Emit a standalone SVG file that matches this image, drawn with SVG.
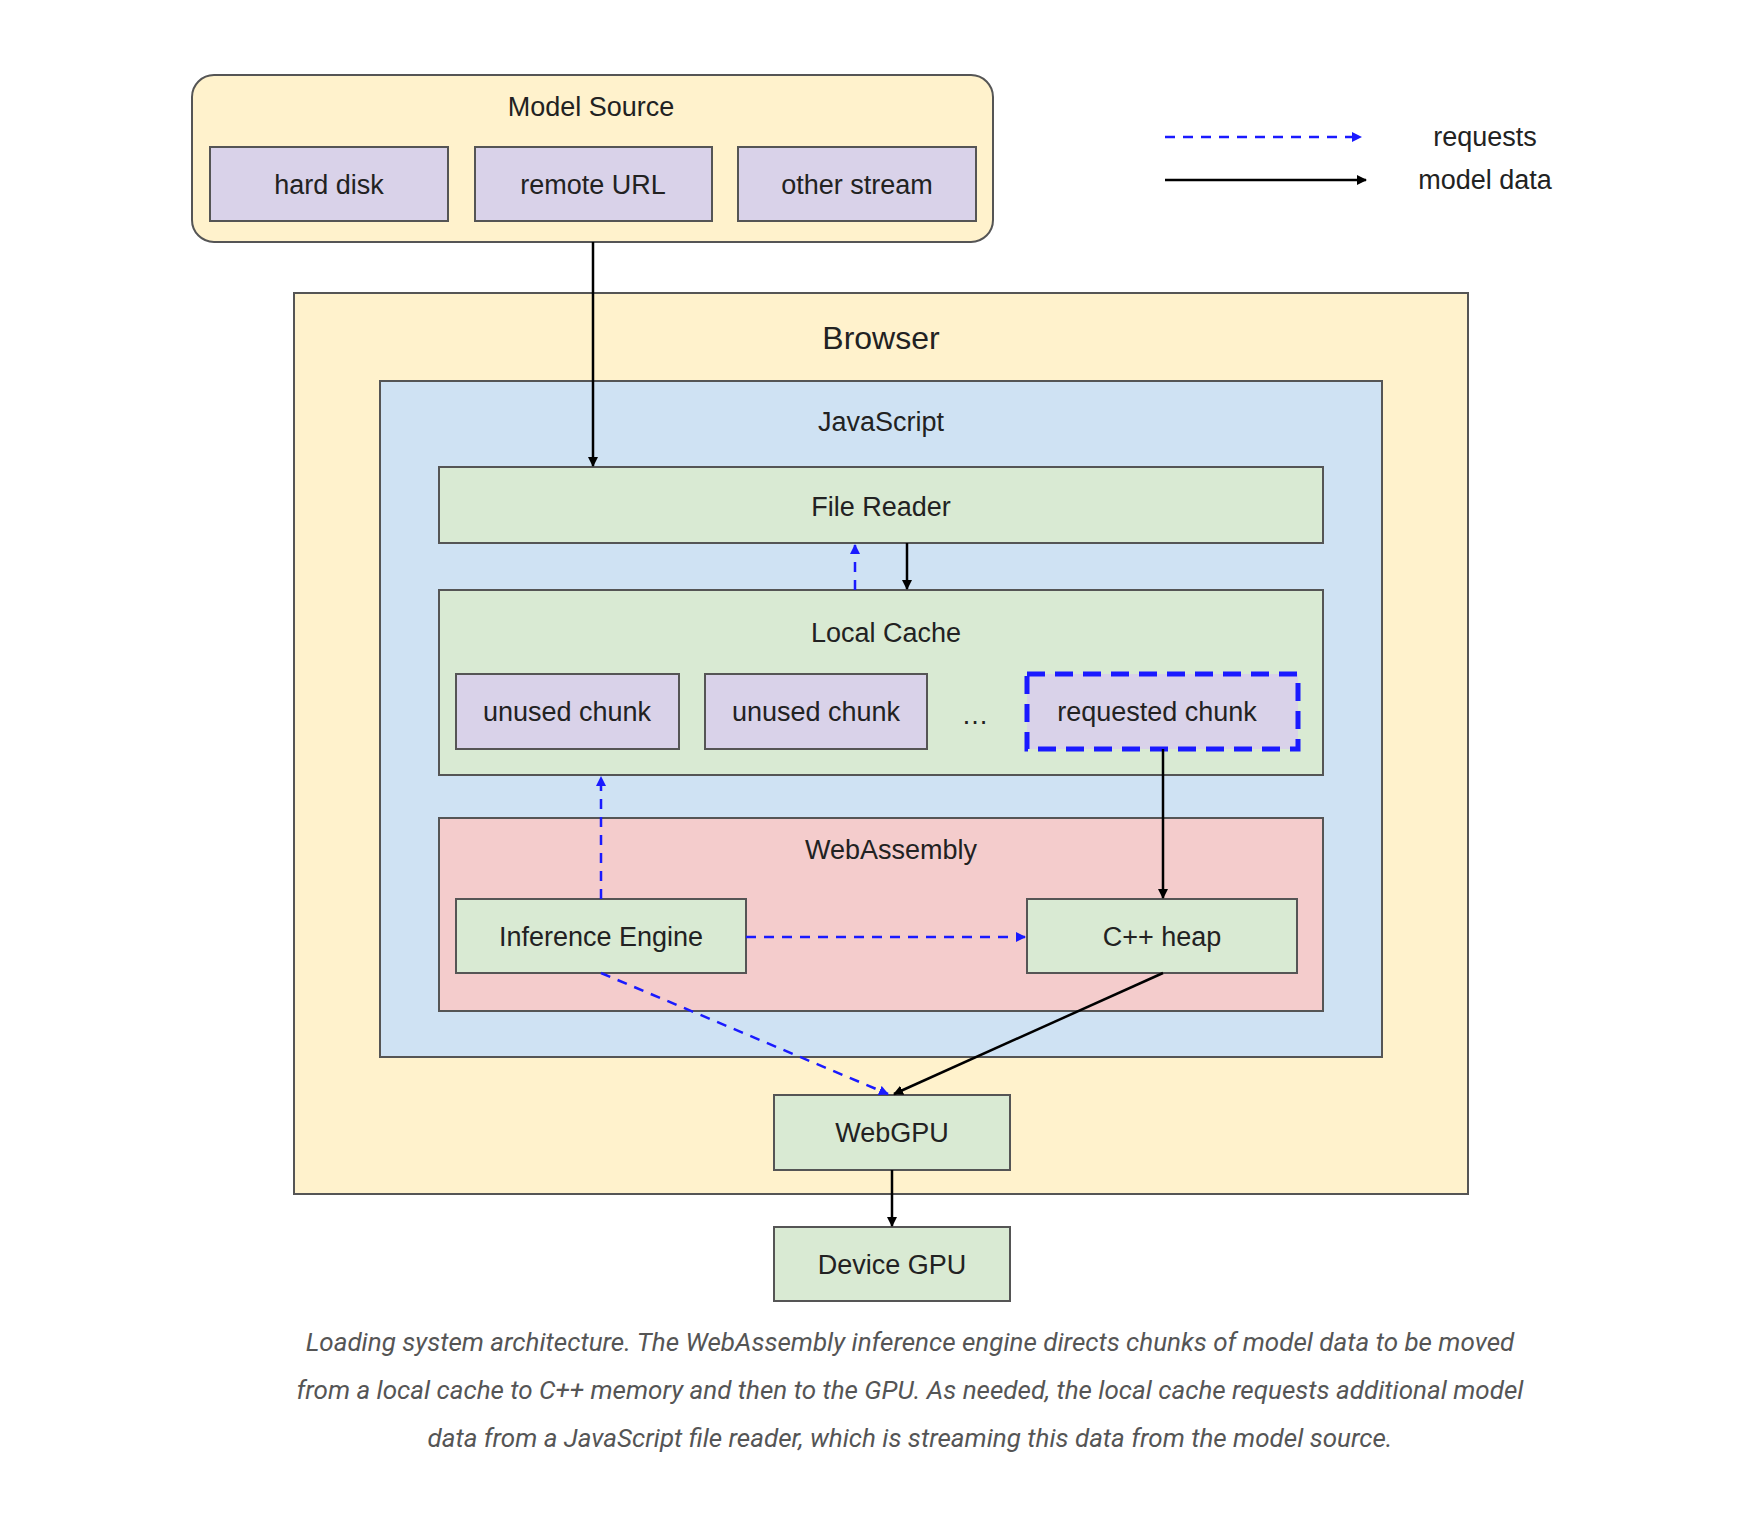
<svg xmlns="http://www.w3.org/2000/svg" width="1764" height="1528" viewBox="0 0 1764 1528">
<style>
text{font-family:"Liberation Sans",Arial,sans-serif;fill:#222;text-anchor:middle;dominant-baseline:central}
.t{font-size:27px}
.box{stroke:#555;stroke-width:2}
.y{fill:#fff2cc}.b{fill:#cfe2f3}.g{fill:#d9ead3}.p{fill:#d9d2e9}.r{fill:#f4cccc}
.s{stroke:#000;stroke-width:2.5;fill:none}
.d{stroke:#1a1aff;stroke-width:2.5;fill:none;stroke-dasharray:10 8}
.cap{font-family:Roboto,"Liberation Sans",sans-serif;font-style:italic;font-size:26px;fill:#555}
</style>
<defs>
<marker id="ak" markerWidth="10" markerHeight="10" refX="9" refY="5" orient="auto" markerUnits="userSpaceOnUse" viewBox="0 0 10 10"><path d="M0,0L10,5L0,10z" fill="#000"/></marker>
<marker id="ab" markerWidth="10" markerHeight="10" refX="9" refY="5" orient="auto" markerUnits="userSpaceOnUse" viewBox="0 0 10 10"><path d="M0,0L10,5L0,10z" fill="#1a1aff"/></marker>
</defs>
<rect width="1764" height="1528" fill="#fff"/>
<g id="model-source">
<rect class="box y" x="192" y="75" width="801" height="167" rx="22"/>
<text class="t" x="591" y="107">Model Source</text>
<rect class="box p" x="210" y="147" width="238" height="74"/><text class="t" x="329" y="185">hard disk</text>
<rect class="box p" x="475" y="147" width="237" height="74"/><text class="t" x="593" y="185">remote URL</text>
<rect class="box p" x="738" y="147" width="238" height="74"/><text class="t" x="857" y="185">other stream</text>
</g>
<g id="legend">
<line class="d" x1="1165" y1="137" x2="1361" y2="137" marker-end="url(#ab)"/>
<text class="t" x="1485" y="137">requests</text>
<line class="s" x1="1165" y1="180" x2="1366" y2="180" marker-end="url(#ak)"/>
<text class="t" x="1485" y="180">model data</text>
</g>
<g id="browser">
<rect class="box y" x="294" y="293" width="1174" height="901"/>
<text x="881" y="338" style="font-size:32px">Browser</text>
</g>
<g id="javascript">
<rect class="box b" x="380" y="381" width="1002" height="676"/>
<text class="t" x="881" y="422">JavaScript</text>
</g>
<g id="file-reader">
<rect class="box g" x="439" y="467" width="884" height="76"/>
<text class="t" x="881" y="507">File Reader</text>
</g>
<g id="local-cache">
<rect class="box g" x="439" y="590" width="884" height="185"/>
<text class="t" x="886" y="633">Local Cache</text>
<rect class="box p" x="456" y="674" width="223" height="75"/><text class="t" x="567" y="712">unused chunk</text>
<rect class="box p" x="705" y="674" width="222" height="75"/><text class="t" x="816" y="712">unused chunk</text>
<text class="t" x="975" y="715">…</text>
</g>
<g id="requested-chunk">
<rect x="1027" y="674" width="271" height="75" fill="#d9d2e9" stroke="#1a1aff" stroke-width="5" stroke-dasharray="18 10"/>
<text class="t" x="1157" y="712">requested chunk</text>
</g>
<g id="webassembly">
<rect class="box r" x="439" y="818" width="884" height="193"/>
<text class="t" x="891" y="850">WebAssembly</text>
</g>
<g id="inference-engine">
<rect class="box g" x="456" y="899" width="290" height="74"/>
<text class="t" x="601" y="937">Inference Engine</text>
</g>
<g id="cpp-heap">
<rect class="box g" x="1027" y="899" width="270" height="74"/>
<text class="t" x="1162" y="937">C++ heap</text>
</g>
<g id="webgpu">
<rect class="box g" x="774" y="1095" width="236" height="75"/>
<text class="t" x="892" y="1133">WebGPU</text>
</g>
<g id="device-gpu">
<rect class="box g" x="774" y="1227" width="236" height="74"/>
<text class="t" x="892" y="1265">Device GPU</text>
</g>
<g id="connectors">
<line class="s" x1="593" y1="242" x2="593" y2="466" marker-end="url(#ak)"/>
<line class="d" x1="855" y1="590" x2="855" y2="545" marker-end="url(#ab)"/>
<line class="s" x1="907" y1="543" x2="907" y2="589" marker-end="url(#ak)"/>
<line class="d" x1="601" y1="899" x2="601" y2="777" marker-end="url(#ab)"/>
<line class="s" x1="1163" y1="749" x2="1163" y2="898" marker-end="url(#ak)"/>
<line class="d" x1="746" y1="937" x2="1025" y2="937" marker-end="url(#ab)"/>
<line class="d" x1="601" y1="973" x2="888" y2="1094" marker-end="url(#ab)"/>
<line class="s" x1="1163" y1="973" x2="894" y2="1094" marker-end="url(#ak)"/>
<line class="s" x1="892" y1="1170" x2="892" y2="1226" marker-end="url(#ak)"/>
</g>
<g id="caption">
<text class="cap" x="910" y="1342">Loading system architecture. The WebAssembly inference engine directs chunks of model data to be moved</text>
<text class="cap" x="910" y="1390">from a local cache to C++ memory and then to the GPU. As needed, the local cache requests additional model</text>
<text class="cap" x="910" y="1438">data from a JavaScript file reader, which is streaming this data from the model source.</text>
</g>
</svg>
